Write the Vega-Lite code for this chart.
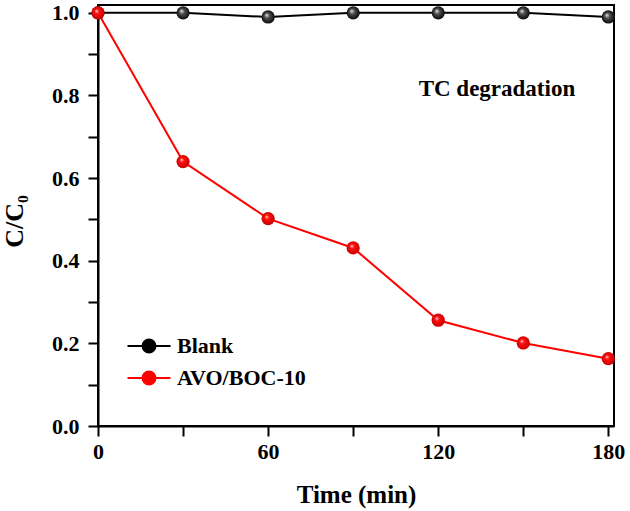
{
  "$schema": "https://vega.github.io/schema/vega-lite/v6.json",
  "width": 516,
  "height": 421,
  "autosize": "none",
  "padding": {"left": 98, "top": 5, "right": 16, "bottom": 85},
  "background": "white",
  "config": {
    "view": {"stroke": "black", "strokeWidth": 2},
    "axis": {
      "grid": false,
      "domainColor": "black",
      "domainWidth": 2,
      "tickColor": "black",
      "tickWidth": 2,
      "tickSize": 10,
      "labelFont": "Liberation Serif",
      "labelFontWeight": "bold",
      "labelFontSize": 22,
      "labelColor": "black",
      "titleFont": "Liberation Serif",
      "titleFontWeight": "bold",
      "titleFontSize": 25,
      "titleColor": "black"
    }
  },
  "data": {
    "values": [
      {"t": 0, "c": 1.0, "s": "Blank"},
      {"t": 30, "c": 1.0, "s": "Blank"},
      {"t": 60, "c": 0.99, "s": "Blank"},
      {"t": 90, "c": 1.0, "s": "Blank"},
      {"t": 120, "c": 1.0, "s": "Blank"},
      {"t": 150, "c": 1.0, "s": "Blank"},
      {"t": 180, "c": 0.99, "s": "Blank"},
      {"t": 0, "c": 1.0, "s": "AVO/BOC-10"},
      {"t": 30, "c": 0.64, "s": "AVO/BOC-10"},
      {"t": 60, "c": 0.502, "s": "AVO/BOC-10"},
      {"t": 90, "c": 0.431, "s": "AVO/BOC-10"},
      {"t": 120, "c": 0.256, "s": "AVO/BOC-10"},
      {"t": 150, "c": 0.201, "s": "AVO/BOC-10"},
      {"t": 180, "c": 0.163, "s": "AVO/BOC-10"}
    ]
  },
  "layer": [
    {
      "mark": {"type": "line", "strokeWidth": 2},
      "encoding": {
        "x": {"field": "t", "type": "quantitative", "scale": {"domain": [0, 182], "nice": false, "zero": false},
              "axis": {"orient": "bottom", "values": [0, 30, 60, 90, 120, 150, 180],
                       "labelExpr": "datum.value % 60 === 0 ? datum.label : ''",
                       "title": "Time (min)", "labelPadding": 5, "titlePadding": 20, "labelFlush": false,
                       "encode": {"ticks": {"update": {"y2": {"signal": "datum.value % 60 === 0 ? 10 : 6"}}}}}},
        "y": {"field": "c", "type": "quantitative", "scale": {"domain": [0, 1.019], "nice": false},
              "axis": {"orient": "left", "values": [0, 0.1, 0.2, 0.3, 0.4, 0.5, 0.6, 0.7, 0.8, 0.9, 1.0], "format": ".1f",
                       "labelExpr": "round(datum.value * 10) % 2 === 0 ? datum.label : ''",
                       "title": "C/C₀", "titleFontSize": 26, "labelPadding": 9, "titlePadding": 24, "titleY": 216, "labelFlush": false,
                       "encode": {"ticks": {"update": {"x2": {"signal": "round(datum.value * 10) % 2 === 0 ? -10 : -6"}}}}}},
        "color": {
          "field": "s", "type": "nominal",
          "scale": {"domain": ["Blank", "AVO/BOC-10"], "range": ["#000000", "#ff0000"]},
          "legend": {
            "title": null,
            "orient": "none",
            "legendX": 40,
            "legendY": 330,
            "padding": 0,
            "symbolType": "M-2.15,0H2.15M0.65,0A0.65,0.65,0,1,1,-0.65,0A0.65,0.65,0,1,1,0.65,0Z",
            "symbolSize": 400,
            "symbolStrokeWidth": 2,
            "labelOffset": 17,
            "rowPadding": 10,
            "labelFont": "Liberation Serif",
            "labelFontWeight": "bold",
            "labelFontSize": 22,
            "labelColor": "black",
            "encode": {
              "symbols": {"update": {
                "fill": {"scale": "color", "field": "value"},
                "stroke": {"scale": "color", "field": "value"},
                "strokeWidth": {"value": 2},
                "opacity": {"value": 1}
              }}
            }
          }
        }
      }
    },
    {
      "transform": [{"filter": "datum.s === 'Blank'"}],
      "mark": {"type": "point", "filled": true, "size": 175, "opacity": 1,
        "fill": {"gradient": "radial", "x1": 0.38, "y1": 0.35, "r1": 0, "x2": 0.5, "y2": 0.5, "r2": 0.55,
          "stops": [{"offset": 0, "color": "#f0f0f0"}, {"offset": 0.35, "color": "#505050"}, {"offset": 1, "color": "#000000"}]}},
      "encoding": {
        "x": {"field": "t", "type": "quantitative"},
        "y": {"field": "c", "type": "quantitative"}
      }
    },
    {
      "transform": [{"filter": "datum.s === 'AVO/BOC-10'"}],
      "mark": {"type": "point", "filled": true, "size": 175, "opacity": 1,
        "fill": {"gradient": "radial", "x1": 0.38, "y1": 0.35, "r1": 0, "x2": 0.5, "y2": 0.5, "r2": 0.55,
          "stops": [{"offset": 0, "color": "#ffe0e0"}, {"offset": 0.3, "color": "#ff1010"}, {"offset": 1, "color": "#c00000"}]}},
      "encoding": {
        "x": {"field": "t", "type": "quantitative"},
        "y": {"field": "c", "type": "quantitative"}
      }
    },
    {
      "data": {"values": [{"label": "TC degradation"}]},
      "mark": {"type": "text", "font": "Liberation Serif", "fontWeight": "bold", "fontSize": 23, "color": "black", "align": "center", "baseline": "alphabetic"},
      "encoding": {
        "text": {"field": "label"},
        "x": {"datum": 140.7, "type": "quantitative"},
        "y": {"datum": 0.799, "type": "quantitative"}
      }
    }
  ]
}
